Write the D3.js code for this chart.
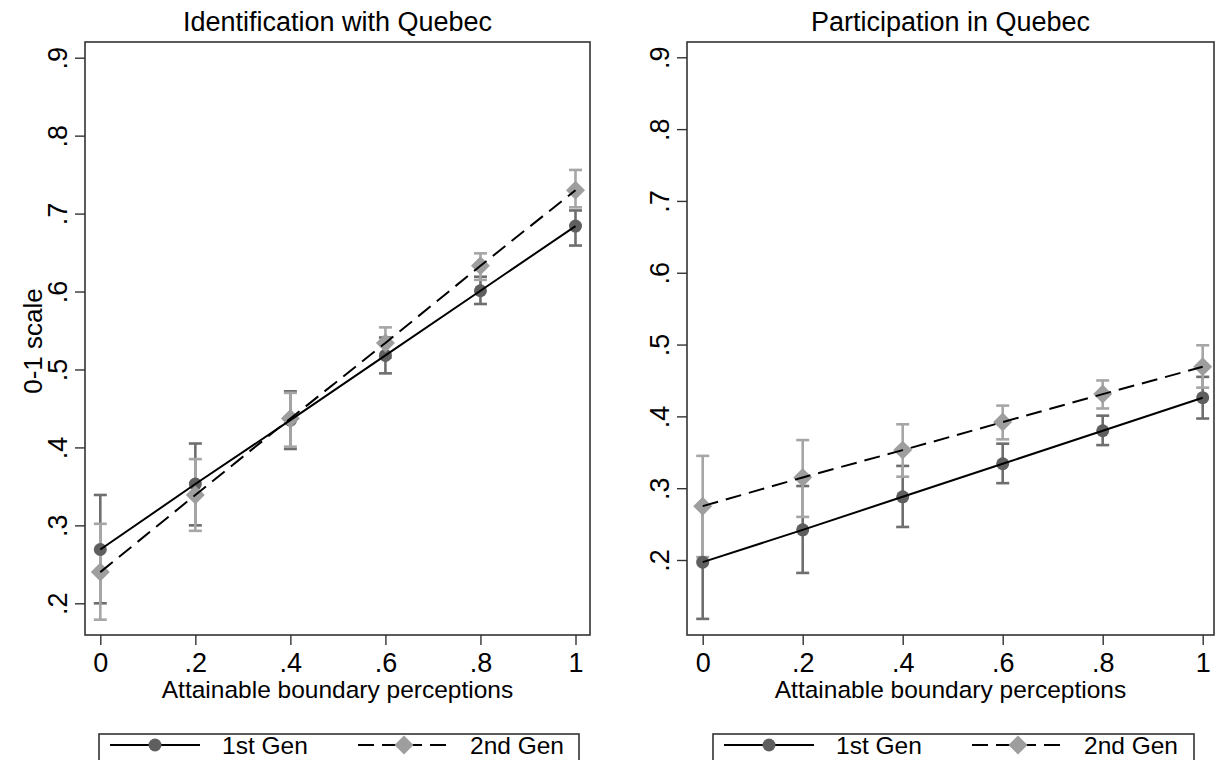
<!DOCTYPE html>
<html>
<head>
<meta charset="utf-8">
<script src="https://cdn.jsdelivr.net/npm/d3@7"></script>
<style>
  html, body { margin: 0; padding: 0; background: #ffffff; }
  svg { display: block; font-family: "Liberation Sans", Arial, Helvetica, sans-serif; }
</style>
</head>
<body>
<svg id="chart" width="1217" height="760"></svg>
<script>
// ---------- data ----------
const xValues = [0, 0.2, 0.4, 0.6, 0.8, 1];
const xTickLabels = ["0", ".2", ".4", ".6", ".8", "1"];
const yTickValues = [0.2, 0.3, 0.4, 0.5, 0.6, 0.7, 0.8, 0.9];
const yTickLabels = [".2", ".3", ".4", ".5", ".6", ".7", ".8", ".9"];
const seriesNames = ["1st Gen", "2nd Gen"];
const panelTitles = ["Identification with Quebec", "Participation in Quebec"];
const xAxisTitle = "Attainable boundary perceptions";
const yAxisTitle = "0-1 scale";

// Identification with Quebec
const identGen1   = [0.269, 0.353, 0.435, 0.518, 0.601, 0.684];
const identGen1Lo = [0.200, 0.300, 0.398, 0.495, 0.584, 0.659];
const identGen1Hi = [0.339, 0.405, 0.472, 0.541, 0.619, 0.704];
const identGen2   = [0.240, 0.339, 0.437, 0.534, 0.633, 0.730];
const identGen2Lo = [0.179, 0.293, 0.401, 0.515, 0.615, 0.708];
const identGen2Hi = [0.302, 0.385, 0.470, 0.554, 0.649, 0.756];

// Participation in Quebec
const partGen1   = [0.197, 0.242, 0.288, 0.334, 0.380, 0.426];
const partGen1Lo = [0.118, 0.182, 0.246, 0.307, 0.360, 0.397];
const partGen1Hi = [0.276, 0.303, 0.331, 0.362, 0.401, 0.455];
const partGen2   = [0.275, 0.315, 0.353, 0.392, 0.431, 0.469];
const partGen2Lo = [0.204, 0.260, 0.316, 0.368, 0.411, 0.440];
const partGen2Hi = [0.345, 0.367, 0.389, 0.415, 0.450, 0.499];

// ---------- styles ----------
const COL = {
  frame: "#333333",
  gen1Marker: "#5f5f5f",
  gen1Bar: "#6e6e6e",
  gen2Marker: "#9e9e9e",
  gen2Bar: "#a6a6a6",
  line: "#000000"
};
const DASH = "16,8";
const FONT = "Liberation Sans, Arial, sans-serif";

const svg = d3.select("#chart");

const panels = [
  {
    title: panelTitles[0],
    frame: { x0: 85, x1: 590, y0: 42, y1: 635 },
    xRange: [100.3, 575.5],
    yDomain: [0.9, 0.2], yRange: [57.7, 603.3],
    showYTitle: true,
    g1: identGen1, g1lo: identGen1Lo, g1hi: identGen1Hi,
    g2: identGen2, g2lo: identGen2Lo, g2hi: identGen2Hi,
    legend: { x0: 99, x1: 579 }
  },
  {
    title: panelTitles[1],
    frame: { x0: 687, x1: 1214, y0: 42, y1: 635 },
    xRange: [702.7, 1202.7],
    yDomain: [0.9, 0.2], yRange: [57.3, 560],
    showYTitle: false,
    g1: partGen1, g1lo: partGen1Lo, g1hi: partGen1Hi,
    g2: partGen2, g2lo: partGen2Lo, g2hi: partGen2Hi,
    legend: { x0: 713, x1: 1194 }
  }
];

panels.forEach(p => {
  const g = svg.append("g");
  const x = d3.scaleLinear().domain([0, 1]).range(p.xRange);
  const y = d3.scaleLinear().domain(p.yDomain).range(p.yRange);
  const F = p.frame;

  // frame
  g.append("rect")
    .attr("x", F.x0).attr("y", F.y0)
    .attr("width", F.x1 - F.x0).attr("height", F.y1 - F.y0)
    .attr("fill", "none").attr("stroke", COL.frame).attr("stroke-width", 1.6);

  // title
  g.append("text")
    .attr("x", (F.x0 + F.x1) / 2).attr("y", 31)
    .attr("text-anchor", "middle").attr("font-size", 27).attr("fill", "#000")
    .text(p.title);

  // x axis
  const xAxis = d3.axisBottom(x).tickValues(xValues)
    .tickFormat((d, i) => xTickLabels[i]).tickSize(10).tickSizeOuter(0);
  const gx = g.append("g").attr("transform", `translate(0,${F.y1})`).call(xAxis);
  gx.select(".domain").remove();
  gx.selectAll(".tick line").attr("stroke", COL.frame).attr("stroke-width", 1.4);
  gx.selectAll(".tick text").attr("font-size", 27).attr("fill", "#000")
    .attr("font-family", FONT)
    .attr("dy", null).attr("y", 37);

  g.append("text")
    .attr("x", (F.x0 + F.x1) / 2).attr("y", 698)
    .attr("text-anchor", "middle").attr("font-size", 24.5).attr("fill", "#000")
    .text(xAxisTitle);

  // y axis
  const yAxis = d3.axisLeft(y).tickValues(yTickValues)
    .tickFormat((d, i) => yTickLabels[i]).tickSize(10).tickSizeOuter(0);
  const gy = g.append("g").attr("transform", `translate(${F.x0},0)`).call(yAxis);
  gy.select(".domain").remove();
  gy.selectAll(".tick line").attr("stroke", COL.frame).attr("stroke-width", 1.4);
  gy.selectAll(".tick text")
    .attr("font-size", 27).attr("fill", "#000")
    .attr("font-family", FONT)
    .attr("x", null).attr("dy", null)
    .attr("text-anchor", "middle")
    .attr("transform", "translate(-18,0) rotate(-90)");

  if (p.showYTitle) {
    g.append("text")
      .attr("transform", `translate(42,341) rotate(-90)`)
      .attr("text-anchor", "middle").attr("font-size", 26).attr("fill", "#000")
      .text(yAxisTitle);
  }

  // error bars
  const capHalf = 6.5;
  function drawCI(lo, hi, color) {
    const ci = g.append("g").attr("stroke", color).attr("stroke-width", 2.6).attr("fill", "none");
    xValues.forEach((xv, i) => {
      ci.append("line").attr("x1", x(xv)).attr("x2", x(xv)).attr("y1", y(lo[i])).attr("y2", y(hi[i]));
      ci.append("line").attr("x1", x(xv) - capHalf).attr("x2", x(xv) + capHalf).attr("y1", y(lo[i])).attr("y2", y(lo[i]));
      ci.append("line").attr("x1", x(xv) - capHalf).attr("x2", x(xv) + capHalf).attr("y1", y(hi[i])).attr("y2", y(hi[i]));
    });
  }
  drawCI(p.g1lo, p.g1hi, COL.gen1Bar);
  drawCI(p.g2lo, p.g2hi, COL.gen2Bar);

  // markers
  g.selectAll(null).data(p.g1).enter().append("circle")
    .attr("cx", (d, i) => x(xValues[i])).attr("cy", d => y(d)).attr("r", 6.5)
    .attr("fill", COL.gen1Marker);
  const diamond = d3.symbol().type(d3.symbolDiamond2).size(230);
  g.selectAll(null).data(p.g2).enter().append("path")
    .attr("d", diamond)
    .attr("transform", (d, i) => `translate(${x(xValues[i])},${y(d)})`)
    .attr("fill", COL.gen2Marker);

  // lines
  const lineGen = d3.line().x((d, i) => x(xValues[i])).y(d => y(d));
  g.append("path").datum(p.g1).attr("d", lineGen)
    .attr("fill", "none").attr("stroke", COL.line).attr("stroke-width", 2);
  g.append("path").datum(p.g2).attr("d", lineGen)
    .attr("fill", "none").attr("stroke", COL.line).attr("stroke-width", 2)
    .attr("stroke-dasharray", DASH);

  // legend
  const L = p.legend;
  const ly = 745;
  const lg = g.append("g");
  lg.append("rect").attr("x", L.x0).attr("y", 734).attr("width", L.x1 - L.x0).attr("height", 60)
    .attr("fill", "#fff").attr("stroke", COL.frame).attr("stroke-width", 1.6);
  lg.append("line").attr("x1", L.x0 + 11).attr("x2", L.x0 + 101).attr("y1", ly).attr("y2", ly)
    .attr("stroke", COL.line).attr("stroke-width", 2);
  lg.append("circle").attr("cx", L.x0 + 56).attr("cy", ly).attr("r", 6.5).attr("fill", COL.gen1Marker);
  lg.append("text").attr("x", L.x0 + 123).attr("y", ly + 9).attr("font-size", 24.5).attr("fill", "#000")
    .text(seriesNames[0]);
  lg.append("line").attr("x1", L.x0 + 259).attr("x2", L.x0 + 351).attr("y1", ly).attr("y2", ly)
    .attr("stroke", COL.line).attr("stroke-width", 2).attr("stroke-dasharray", DASH);
  lg.append("path").attr("d", diamond).attr("transform", `translate(${L.x0 + 305},${ly})`)
    .attr("fill", COL.gen2Marker);
  lg.append("text").attr("x", L.x0 + 371).attr("y", ly + 9).attr("font-size", 24.5).attr("fill", "#000")
    .text(seriesNames[1]);
});
</script>
</body>
</html>
